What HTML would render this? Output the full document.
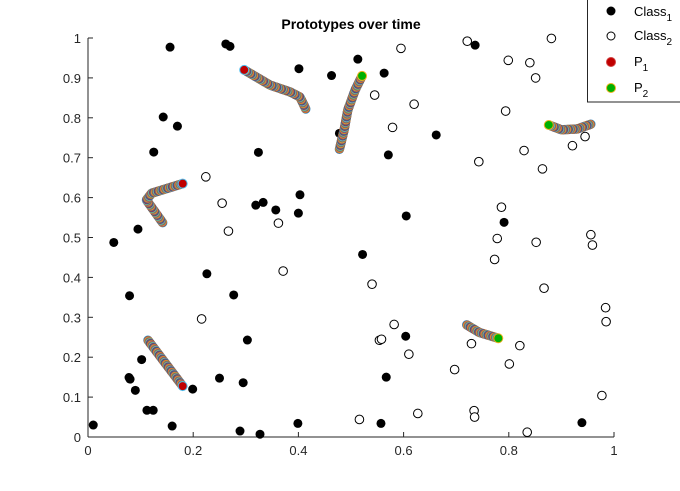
<!DOCTYPE html>
<html><head><meta charset="utf-8"><style>
body{margin:0;background:#fff}
svg{display:block;font-family:"Liberation Sans",Arial,sans-serif}
</style></head><body>
<svg id="chart" width="680" height="491">
<rect width="680" height="491" fill="#fff"/>
<text x="351" y="29" text-anchor="middle" font-size="14" font-weight="bold" fill="#000">Prototypes over time</text>
<g id="axes"></g>
<g id="marks"></g>
<g>
<rect x="587.5" y="-1" width="100" height="103" fill="#fff" stroke="#262626" stroke-width="1"/>
<g><circle cx="611" cy="11" r="4.5" fill="#000"/><text x="634" y="16" font-size="13">Class<tspan font-size="10" dy="5">1</tspan></text></g>
<g><circle cx="611" cy="36" r="4" fill="#fff" stroke="#000"/><text x="634" y="40" font-size="13">Class<tspan font-size="10" dy="5">2</tspan></text></g>
<g><circle cx="611" cy="62" r="4.5" fill="#c00000" stroke="#d04040"/><text x="634" y="66" font-size="13">P<tspan font-size="10" dy="5">1</tspan></text></g>
<g><circle cx="611" cy="88" r="4.5" fill="#00b000" stroke="#EDB120"/><text x="634" y="92" font-size="13">P<tspan font-size="10" dy="5">2</tspan></text></g>
</g>
</svg>
<script>
const xTicks=[0,0.2,0.4,0.6,0.8,1];
const xTickLabels=["0","0.2","0.4","0.6","0.8","1"];
const yTicks=[0,0.1,0.2,0.3,0.4,0.5,0.6,0.7,0.8,0.9,1];
const yTickLabels=["0","0.1","0.2","0.3","0.4","0.5","0.6","0.7","0.8","0.9","1"];
const class1X=[0.049,0.079,0.095,0.226,0.277,0.303,0.102,0.078,0.080,0.090,0.25,0.295,0.199,0.112,0.124,0.01,0.16,0.289,0.327,0.399,0.522,0.604,0.567,0.557,0.939,0.125,0.143,0.17,0.156,0.262,0.27,0.324,0.319,0.333,0.357,0.40,0.403,0.401,0.463,0.513,0.478,0.563,0.662,0.571,0.736,0.605,0.791];
const class1Y=[0.4875,0.354,0.521,0.409,0.356,0.243,0.194,0.149,0.145,0.117,0.1475,0.136,0.12,0.067,0.067,0.03,0.0275,0.015,0.007,0.034,0.4575,0.2525,0.15,0.034,0.036,0.714,0.802,0.779,0.977,0.985,0.979,0.7135,0.581,0.588,0.569,0.561,0.607,0.923,0.906,0.947,0.761,0.912,0.757,0.707,0.982,0.554,0.538];
const class2X=[0.267,0.371,0.216,0.54,0.582,0.554,0.558,0.61,0.627,0.516,0.697,0.729,0.734,0.735,0.778,0.773,0.801,0.821,0.835,0.852,0.867,0.956,0.959,0.984,0.985,0.977,0.224,0.255,0.362,0.595,0.545,0.62,0.579,0.721,0.799,0.84,0.851,0.881,0.794,0.829,0.743,0.864,0.921,0.945,0.786];
const class2Y=[0.516,0.416,0.296,0.383,0.282,0.2425,0.245,0.2075,0.059,0.044,0.169,0.234,0.066,0.05,0.4975,0.445,0.183,0.229,0.012,0.488,0.373,0.507,0.481,0.324,0.289,0.104,0.652,0.586,0.536,0.974,0.857,0.834,0.776,0.992,0.944,0.938,0.90,0.999,0.817,0.718,0.69,0.672,0.73,0.753,0.576];
// prototype trajectories (first point = final prototype position)
const trajX=[[0.297,0.346,0.384,0.403,0.414],[0.18,0.121,0.111,0.142],[0.18,0.114],[0.521,0.508,0.494,0.487,0.478],[0.876,0.9,0.93,0.956],[0.78,0.744,0.72]];
const trajY=[[0.92,0.882,0.865,0.852,0.822],[0.635,0.611,0.594,0.537],[0.1275,0.2425],[0.905,0.87,0.82,0.77,0.721],[0.782,0.770,0.772,0.784],[0.2475,0.262,0.281]];
const trajProto=["P1","P1","P1","P2","P2","P2"];

const X0=88,X1=614,Y0=437,Y1=38;
const sx=v=>X0+v*(X1-X0), sy=v=>Y0-v*(Y0-Y1);
const NS="http://www.w3.org/2000/svg";
function mk(tag,attrs,parent){const e=document.createElementNS(NS,tag);for(const k in attrs)e.setAttribute(k,attrs[k]);parent.appendChild(e);return e;}
const ax=document.getElementById('axes'), mg=document.getElementById('marks');
let l=mk('line',{x1:X0,y1:Y0,x2:X1,y2:Y0,stroke:'#262626'},ax);


l=mk('line',{x1:X0,y1:Y0,x2:X0,y2:Y1,stroke:'#262626'},ax);


xTicks.forEach((t,i)=>{
  mk('line',{x1:sx(t),y1:Y0,x2:sx(t),y2:Y0-5,stroke:'#262626'},ax);
  const tx=mk('text',{x:sx(t),y:Y0+18,'text-anchor':'middle','font-size':13,fill:'#262626'},ax);
  tx.textContent=xTickLabels[i];
  
  
});
yTicks.forEach((t,i)=>{
  mk('line',{x1:X0,y1:sy(t),x2:X0+5,y2:sy(t),stroke:'#262626'},ax);
  const tx=mk('text',{x:X0-7,y:sy(t)+5,'text-anchor':'end','font-size':13,fill:'#262626'},ax);
  tx.textContent=yTickLabels[i];
  
  
});
class1X.forEach((x,i)=>{
  const c=mk('circle',{cx:sx(x),cy:sy(class1Y[i]),r:4.5,fill:'#000'},mg);
  
  
});
class2X.forEach((x,i)=>{
  const c=mk('circle',{cx:sx(x),cy:sy(class2Y[i]),r:4.3,fill:'#fff',stroke:'#000','stroke-width':1},mg);
  
  
});
const cols=['#0072BD','#D95319','#EDB120','#7E2F8E','#77AC30','#4DBEEE','#A2142F'];
trajX.forEach((xs,ti)=>{
  const g=mk('g',{},mg);
  
  
  const pts=[];
  for(let k=xs.length-1;k>0;k--){
    const ax1=sx(xs[k]),ay1=sy(trajY[ti][k]),bx=sx(xs[k-1]),by=sy(trajY[ti][k-1]);
    const n=Math.max(2,Math.round(Math.hypot(bx-ax1,by-ay1)/0.7));
    for(let j=0;j<n;j++)pts.push([ax1+(bx-ax1)*j/n,ay1+(by-ay1)*j/n]);
  }
  pts.forEach((p,j)=>{
    const c=cols[j%7];
    mk('circle',{cx:p[0],cy:p[1],r:4.2,fill:'#8c8a80',stroke:c,'stroke-width':1,'stroke-opacity':0.8},g);
  });
  const end=mk('circle',{cx:sx(xs[0]),cy:sy(trajY[ti][0]),r:4.5,fill:trajProto[ti]==='P1'?'#c00000':'#00b000',stroke:trajProto[ti]==='P1'?'#4DBEEE':'#EDB120','stroke-width':1},g);
  
  
});
</script>
</body></html>
